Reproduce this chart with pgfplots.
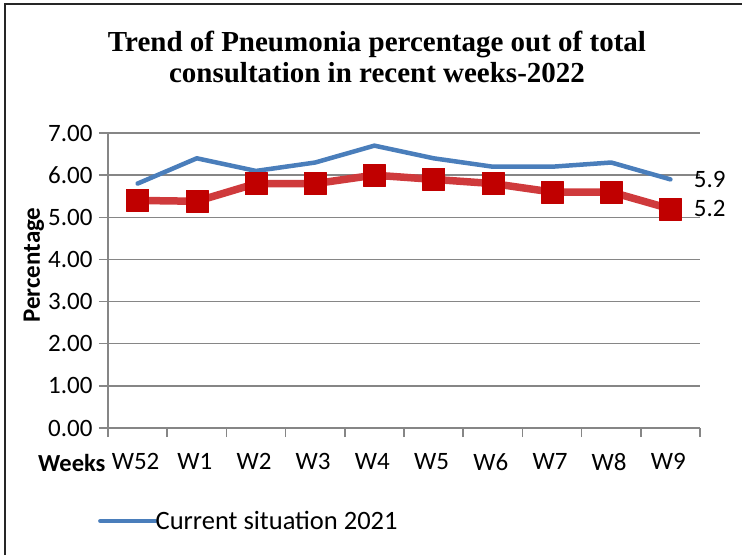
\documentclass[border=0pt]{standalone}
\usepackage{pgfplots}
\pgfplotsset{compat=1.18}
\usepackage{fontspec}
\setmainfont{Carlito}
\newfontfamily\titlefont{Liberation Serif}
\definecolor{blueline}{HTML}{4A7EBB}
\definecolor{redline}{HTML}{CF3A3C}
\definecolor{redmark}{HTML}{C00000}
\definecolor{gridgray}{HTML}{868686}
\begin{document}
\begin{tikzpicture}[x=1pt,y=1pt]
\useasboundingbox (0,0) rectangle (742,555);
\draw[line width=1.5pt, color=black!85] (5,0) -- (5,551) -- (742,551);
\node[font=\titlefont\bfseries\fontsize{29}{31}\selectfont, align=center] at (377,498) {Trend of Pneumonia percentage out of total\\consultation in recent weeks-2022};
\node[rotate=90, font=\bfseries\fontsize{25}{29}\selectfont] at (34,290) {Percentage};
\node[anchor=east, font=\bfseries\fontsize{24.5}{28}\selectfont] at (109,92) {Weeks};
\begin{axis}[
  at={(108pt,127pt)}, anchor=south west,
  scale only axis, width=592pt, height=295pt,
  xmin=-0.5, xmax=9.5, ymin=0, ymax=7,
  axis lines*=left,
  axis line style={gridgray, line width=1.5pt, -},
  xtick={0,...,9},
  xticklabels={W52,W1,W2,W3,W4,W5,W6,W7,W8,W9},
  minor xtick={-0.5,0.5,...,9.5},
  major x tick style={draw=none},
  minor tick length=9pt,
  major tick length=9pt,
  tick align=outside,
  tick style={gridgray, line width=1.5pt},
  ytick={0,1,...,7},
  ymajorgrids,
  grid style={gridgray, line width=1.5pt},
  yticklabel style={/pgf/number format/fixed, /pgf/number format/fixed zerofill, /pgf/number format/precision=2, xshift=-3pt},
  /pgf/number format/assume math mode=true,
  ticklabel style={font=\fontsize{25}{29}\selectfont},
  xticklabel style={yshift=-13pt, xshift=-2pt},
  clip=false,
  legend style={at={(-0.017,-0.315)}, anchor=west, draw=none, fill=none,
    font=\fontsize{26.5}{30}\selectfont, inner sep=0pt,
    /tikz/every even column/.append style={column sep=0pt}},
  legend image code/.code={\draw[#1] (0pt,0pt) -- (55pt,0pt);},
]
\addplot[blueline, line width=4.5pt, line join=round, line cap=round] coordinates {
(0,5.8) (1,6.4) (2,6.1) (3,6.3) (4,6.7) (5,6.4) (6,6.2) (7,6.2) (8,6.3) (9,5.9)};
\addlegendentry{\hspace{-4pt}Current situation 2021}
\addplot[redline, line width=7.5pt, line join=round, mark=square*, mark size=11pt,
  mark options={fill=redmark, draw=redmark, line width=0.5pt, rounded corners=1pt}, forget plot] coordinates {
(0,5.4) (1,5.38) (2,5.8) (3,5.8) (4,6.0) (5,5.9) (6,5.8) (7,5.6) (8,5.6) (9,5.2)};
\node[anchor=west, font=\fontsize{25}{29}\selectfont] at (axis cs:9,5.9) [xshift=20pt] {5.9};
\node[anchor=west, font=\fontsize{25}{29}\selectfont] at (axis cs:9,5.2) [xshift=20pt] {5.2};
\end{axis}
\end{tikzpicture}
\end{document}
